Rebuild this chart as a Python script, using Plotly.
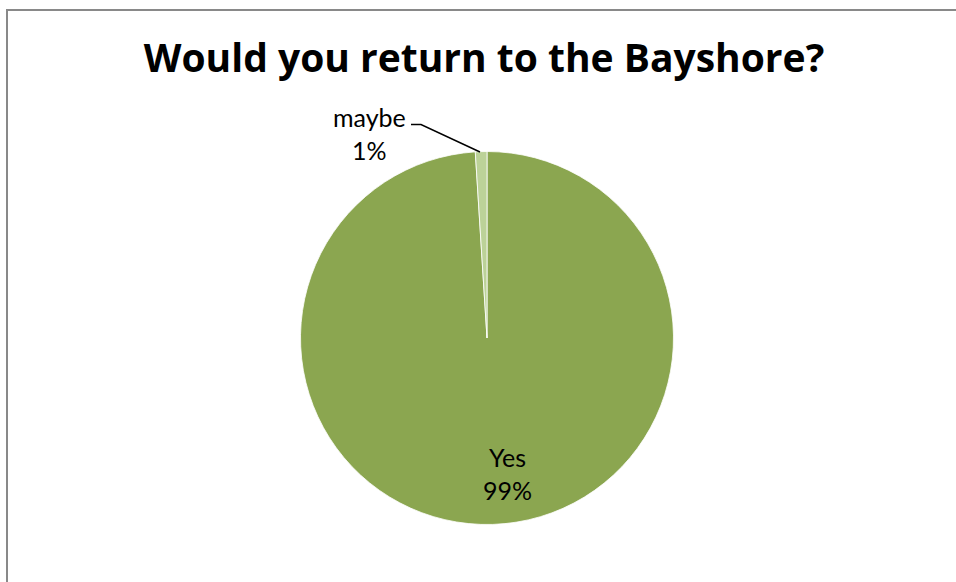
import plotly.graph_objects as go

labels = ["Yes", "maybe"]
values = [99, 1]
colors = ["#8BA650", "#BCD298"]
title_text = "Would you return to the Bayshore?"

W, H = 956, 582
cx, cy, r = 487, 338, 186.5

def px(x):
    return x / W

def py(y):
    return 1 - y / H

total = sum(values)
pcts = [round(v / total * 100) for v in values]

fig = go.Figure()
fig.add_trace(go.Pie(
    labels=labels,
    values=values,
    sort=False,
    direction="clockwise",
    rotation=0,
    marker=dict(colors=colors, line=dict(color="white", width=0.8)),
    textinfo="none",
    hoverinfo="label+percent",
    showlegend=False,
    domain=dict(x=[px(cx - r), px(cx + r)], y=[py(cy + r), py(cy - r)]),
))

label_pos = [(507, 473), (369, 134)]
annotations = []
for (lab, p, (x, y)) in zip(labels, pcts, label_pos):
    annotations.append(dict(
        x=px(x), y=py(y), xref="paper", yref="paper",
        text=f"{lab}<br>{p}%", showarrow=False,
        font=dict(family="Lato, Carlito, sans-serif", size=25, color="#000"),
        align="center", xanchor="center", yanchor="middle",
    ))

shapes = [
    dict(type="line", xref="paper", yref="paper",
         x0=px(7), x1=px(7), y0=py(H + 40), y1=py(10),
         line=dict(color="#898989", width=2)),
    dict(type="line", xref="paper", yref="paper",
         x0=px(6), x1=px(W + 40), y0=py(10), y1=py(10),
         line=dict(color="#898989", width=2)),
    dict(type="path", xref="paper", yref="paper",
         path=f"M {px(411)} {py(124.5)} L {px(421)} {py(124.5)} L {px(480)} {py(152)}",
         line=dict(color="#000", width=1.5)),
]

fig.update_layout(
    width=W, height=H,
    margin=dict(l=0, r=0, t=0, b=0),
    paper_bgcolor="white",
    plot_bgcolor="white",
    title=dict(text=f"<b>{title_text}</b>", x=px(484), xanchor="center",
               y=py(58), yanchor="middle", yref="container",
               font=dict(family="Open Sans, sans-serif", size=39, color="#000")),
    annotations=annotations,
    shapes=shapes,
)

fig.write_html(
    "out.html",
    config={"displayModeBar": False},
    post_script="document.body.style.margin='0';document.body.style.overflow='hidden';",
)
